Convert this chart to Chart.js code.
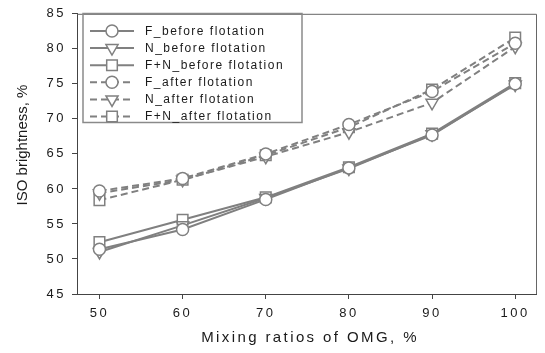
<!DOCTYPE html>
<html><head><meta charset="utf-8">
<style>html,body{margin:0;padding:0;background:#fff;}#wrap{width:545px;height:353px;position:relative;}</style>
<script src="https://cdn.jsdelivr.net/npm/chart.js@4.4.1/dist/chart.umd.min.js"></script>
</head><body><div id="wrap"><canvas id="c" width="545" height="353"></canvas></div>
<script>
const mixingRatios = [50, 60, 70, 80, 90, 100];
const fBefore  = [51.4, 54.2, 58.5, 63.0, 67.7, 75.0];
const nBefore  = [51.0, 54.8, 58.7, 62.9, 67.8, 74.9];
const fnBefore = [52.4, 55.6, 58.8, 63.1, 67.9, 75.1];
const fAfter   = [59.7, 61.5, 65.0, 69.2, 73.9, 80.8];
const nAfter   = [59.4, 61.3, 64.6, 68.1, 72.3, 80.3];
const fnAfter  = [58.4, 61.3, 64.8, 68.8, 74.2, 81.6];
const seriesLabels = ['F_before flotation','N_before flotation','F+N_before flotation','F_after flotation','N_after flotation','F+N_after flotation'];
const xTickValues = [50, 60, 70, 80, 90, 100];
const yTickValues = [45, 50, 55, 60, 65, 70, 75, 80, 85];
const xTitle = 'Mixing ratios of OMG, %';
const yTitle = 'ISO brightness, %';

const GRAY = '#808080';
const styles = [
  {pt:'circle', r:6, rot:0, dash:[]},
  {pt:'triangle', r:7, rot:180, dash:[]},
  {pt:'rect', r:7.5, rot:0, dash:[]},
  {pt:'circle', r:6, rot:0, dash:[7,4]},
  {pt:'triangle', r:7, rot:180, dash:[7,4]},
  {pt:'rect', r:7.5, rot:0, dash:[7,4]}
];
const seriesData = [fBefore, nBefore, fnBefore, fAfter, nAfter, fnAfter];

const datasets = seriesData.map((vals, i) => ({
  label: seriesLabels[i],
  data: mixingRatios.map((x, j) => ({x: x, y: vals[j]})),
  borderColor: GRAY,
  borderWidth: 2,
  borderDash: styles[i].dash,
  backgroundColor: '#fff',
  pointStyle: styles[i].pt,
  pointRadius: styles[i].r,
  pointRotation: styles[i].rot,
  pointBorderColor: GRAY,
  pointBackgroundColor: '#fff',
  pointBorderWidth: 1.5,
  fill: false,
  tension: 0
}));

function drawMarker(ctx, style, x, y) {
  ctx.save();
  ctx.setLineDash([]);
  ctx.strokeStyle = GRAY; ctx.fillStyle = '#fff'; ctx.lineWidth = 1.5;
  ctx.beginPath();
  if (style.pt === 'circle') {
    ctx.arc(x, y, style.r, 0, Math.PI * 2);
  } else if (style.pt === 'rect') {
    const s = style.r * Math.SQRT1_2;
    ctx.rect(x - s, y - s, 2 * s, 2 * s);
  } else {
    const r = style.r;
    ctx.moveTo(x, y + r);
    ctx.lineTo(x - r * Math.sin(Math.PI / 3), y - r * 0.5);
    ctx.lineTo(x + r * Math.sin(Math.PI / 3), y - r * 0.5);
    ctx.closePath();
  }
  ctx.fill(); ctx.stroke();
  ctx.restore();
}

const decor = {
  id: 'decor',
  beforeDraw(chart) {
    chart.ctx.letterSpacing = '2.5px';
  },
  afterDraw(chart) {
    const ctx = chart.ctx;
    const a = chart.chartArea;
    ctx.save();
    ctx.strokeStyle = '#666'; ctx.lineWidth = 1;
    ctx.beginPath();
    ctx.moveTo(a.left, a.top + 0.5); ctx.lineTo(a.right + 0.5, a.top + 0.5); ctx.lineTo(a.right + 0.5, a.bottom);
    ctx.stroke();
    ctx.strokeStyle = '#8a8a8a'; ctx.lineWidth = 1.5;
    ctx.strokeRect(83, 13.5, 219, 109);
    ctx.font = '12px "Liberation Sans", Arial, sans-serif';
    ctx.letterSpacing = '1.5px';
    ctx.fillStyle = '#1a1a1a';
    ctx.textBaseline = 'middle';
    ctx.textAlign = 'left';
    seriesLabels.forEach((lab, i) => {
      const y = 31 + i * 17.1;
      ctx.save();
      ctx.strokeStyle = GRAY; ctx.lineWidth = 2;
      ctx.setLineDash(styles[i].dash.length ? [7, 4] : []);
      ctx.beginPath(); ctx.moveTo(90, y); ctx.lineTo(134, y); ctx.stroke();
      ctx.restore();
      drawMarker(ctx, styles[i], 112, y);
      ctx.fillText(lab, 145, y + 0.5);
    });
    ctx.fillStyle = '#1a1a1a';
    ctx.font = '15px "Liberation Sans", Arial, sans-serif';
    ctx.letterSpacing = '2.4px';
    ctx.textAlign = 'center';
    ctx.fillText(xTitle, 310, 338);
    ctx.letterSpacing = '0px';
    ctx.translate(23, 145);
    ctx.rotate(-Math.PI / 2);
    ctx.fillText(yTitle, 0, 0);
    ctx.restore();
  }
};

const tickFont = {family: '"Liberation Sans", Arial, sans-serif', size: 13};

new Chart(document.getElementById('c'), {
  type: 'line',
  data: {datasets: datasets},
  options: {
    responsive: false,
    animation: false,
    devicePixelRatio: 1,
    layout: {padding: {top: 13, right: 4, left: 0, bottom: 0}},
    plugins: {legend: {display: false}, tooltip: {enabled: false}},
    scales: {
      x: {
        type: 'linear', min: 47.3, max: 102.5,
        afterBuildTicks: s => { s.ticks = xTickValues.map(v => ({value: v})); },
        afterFit: s => { s.height = 59; },
        grid: {display: true, drawOnChartArea: false, drawTicks: true, tickLength: 5, color: '#444'},
        border: {display: true, color: '#444', width: 1},
        ticks: {font: tickFont, color: '#1a1a1a', padding: 7, maxRotation: 0}
      },
      y: {
        type: 'linear', min: 45, max: 85,
        afterBuildTicks: s => { s.ticks = yTickValues.map(v => ({value: v})); },
        afterFit: s => { s.width = 77; },
        grid: {display: true, drawOnChartArea: false, drawTicks: true, tickLength: 5, color: '#444'},
        border: {display: true, color: '#444', width: 1},
        ticks: {font: tickFont, color: '#1a1a1a', padding: 6}
      }
    }
  },
  plugins: [decor]
});
</script>
</body></html>
